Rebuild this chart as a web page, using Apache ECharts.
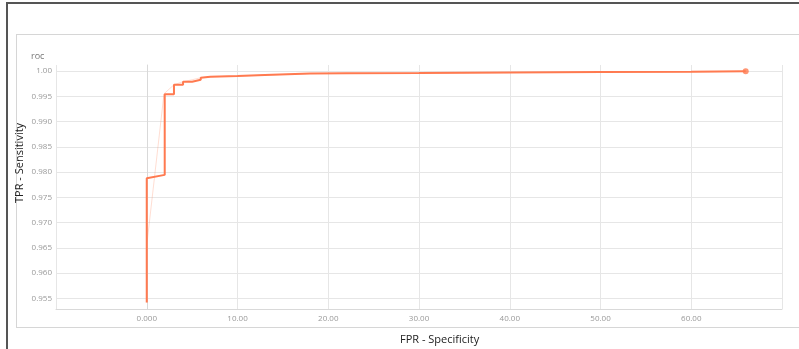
<!DOCTYPE html>
<html>
<head>
<meta charset="utf-8">
<script src="https://cdn.jsdelivr.net/npm/echarts@6/dist/echarts.min.js"></script>
<style>
  html, body { margin: 0; padding: 0; background: #fff; }
  #wrap { position: relative; width: 799px; height: 349px; overflow: hidden; background: #fff; }
  #outer { position: absolute; left: 6px; top: 2px; width: 800px; height: 360px; border-left: 2px solid #555; border-top: 2px solid #555; }
  #inner { position: absolute; left: 16px; top: 34px; width: 800px; height: 292px; border: 1px solid #d6d6d6; }
  #chart { position: absolute; left: 0; top: 0; width: 799px; height: 349px; }
</style>
</head>
<body>
<div id="wrap">
  <div id="outer"></div>
  <div id="inner"></div>
  <div id="chart"></div>
</div>
<script>
// Main (bold) ROC curve: FPR values and TPR values
const fprValues = [0, 0, 1.98, 1.98, 3.0, 3.0, 4.0, 4.0, 5.0, 5.0, 5.95, 5.95, 7.0, 10.0, 13.0, 18.0, 22.0, 30.0, 40.0, 50.0, 60.0, 66.0];
const tprValues = [0.9542, 0.9788, 0.97945, 0.9954, 0.9954, 0.99729, 0.99729, 0.99789, 0.99789, 0.99828, 0.99828, 0.99868, 0.99887, 0.9990, 0.9992, 0.9995, 0.99955, 0.9996, 0.9997, 0.9998, 0.99985, 0.99995];
// Faint (raw) curve
const rawFpr = [0, 0, 1.9, 3.0, 4.0, 5.0, 5.95, 7.0, 10.0, 13.0, 18.0, 22.0, 30.0, 40.0, 50.0, 60.0, 66.0];
const rawTpr = [0.9542, 0.9655, 0.9955, 0.99729, 0.99789, 0.99828, 0.99868, 0.99887, 0.9990, 0.9992, 0.9995, 0.99955, 0.9996, 0.9997, 0.9998, 0.99985, 0.99995];

const chartTitle = 'roc';
const xName = 'FPR - Specificity';
const yName = 'TPR - Sensitivity';

const mainData = fprValues.map((x, i) => [x, tprValues[i]]);
const rawData = rawFpr.map((x, i) => [x, rawTpr[i]]);
const lastPoint = [[fprValues[fprValues.length - 1], tprValues[tprValues.length - 1]]];

const chart = echarts.init(document.getElementById('chart'), null, { renderer: 'canvas' });
const lineColor = '#ff7a50';
chart.setOption({
  animation: false,
  backgroundColor: 'transparent',
  textStyle: { fontFamily: 'Open Sans, Roboto, sans-serif' },
  title: {
    text: chartTitle, left: 26, top: 47,
    textStyle: { fontSize: 9, fontWeight: 'normal', color: '#777', fontFamily: 'Open Sans, sans-serif' }
  },
  grid: { left: 56, right: 17, top: 65, bottom: 40, containLabel: false },
  xAxis: {
    type: 'value', min: -10, max: 70, interval: 10,
    axisLine: { show: true, lineStyle: { color: '#d9d9d9', width: 1 } },
    axisTick: { show: false },
    splitLine: { show: true, lineStyle: { color: '#e6e6e6', width: 1 } },
    axisLabel: {
      margin: 6, fontSize: 8, color: '#999',
      formatter: v => (v < 0 || v >= 70) ? '' : (v === 0 ? '0.000' : v.toFixed(2))
    }
  },
  yAxis: {
    type: 'value', min: 0.9529, max: 1.0012, splitNumber: 10,
    axisLine: { show: true, lineStyle: { color: '#d9d9d9', width: 1 } },
    axisTick: { show: false },
    splitLine: { show: true, showMaxLine: false, lineStyle: { color: '#e6e6e6', width: 1 } },
    axisLabel: {
      margin: 4, fontSize: 8, color: '#999', showMinLabel: false, showMaxLabel: false,
      formatter: v => Math.abs(v - 1) < 1e-9 ? '1.00' : v.toFixed(3)
    }
  },
  graphic: [
    { type: 'text', left: 400, top: 334, style: { text: xName, fontSize: 11, fill: '#222', fontFamily: 'Open Sans, sans-serif' } },
    { type: 'text', x: 14, y: 203, rotation: Math.PI / 2, style: { text: yName, fontSize: 11, fill: '#222', fontFamily: 'Open Sans, sans-serif' } }
  ],
  series: [
    {
      type: 'line', data: rawData, showSymbol: false, silent: true,
      lineStyle: { color: 'rgba(255,122,80,0.25)', width: 1 }, z: 2
    },
    {
      type: 'line', data: mainData, showSymbol: false,
      lineStyle: { color: lineColor, width: 2 }, z: 3
    },
    {
      type: 'scatter', data: lastPoint, symbol: 'circle', symbolSize: 6,
      itemStyle: { color: lineColor }, z: 4
    }
  ]
});
</script>
</body>
</html>
